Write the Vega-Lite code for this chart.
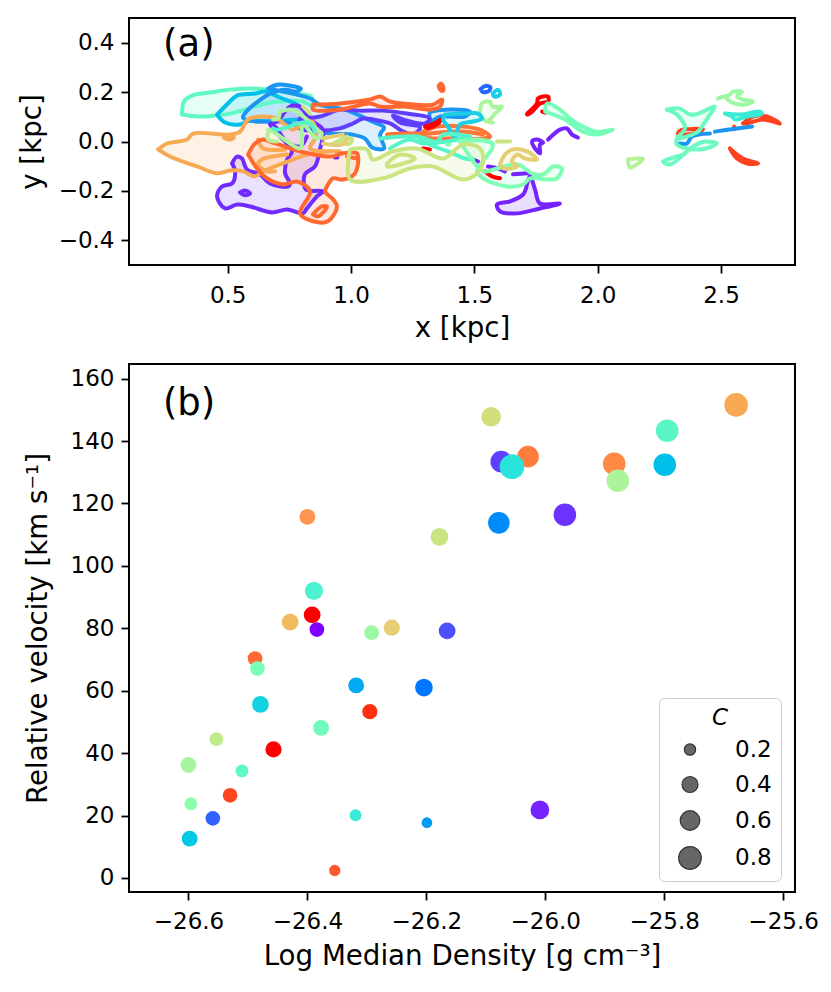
{
  "$schema": "https://vega.github.io/schema/vega-lite/v6.json",
  "padding": {"left": 17, "top": 17, "right": 5, "bottom": 5},
  "background": "white",
  "bounds": "flush",
  "spacing": 99,
  "config": {
    "font": "DejaVu Sans",
    "view": {"stroke": "black", "strokeWidth": 2},
    "axis": {
      "grid": false, "domain": false, "tickColor": "black", "tickSize": 8, "tickWidth": 1.8,
      "labelColor": "black", "labelFontSize": 23, "titleFontSize": 27.7, "titleFontWeight": "normal", "titleColor": "black", "labelPadding": 7, "titlePadding": 7
    }
  },
  "datasets": {
    "contours": [
      {"c":1,"t":0.44,"x":0.315,"y":0.109},{"c":1,"t":0.44,"x":0.323,"y":0.162},{"c":1,"t":0.44,"x":0.355,"y":0.186},{"c":1,"t":0.44,"x":0.428,"y":0.198},{"c":1,"t":0.44,"x":0.51,"y":0.21},{"c":1,"t":0.44,"x":0.619,"y":0.214},{"c":1,"t":0.44,"x":0.692,"y":0.206},{"c":1,"t":0.44,"x":0.765,"y":0.194},{"c":1,"t":0.44,"x":0.838,"y":0.182},{"c":1,"t":0.44,"x":0.846,"y":0.141},{"c":1,"t":0.44,"x":0.805,"y":0.162},{"c":1,"t":0.44,"x":0.712,"y":0.162},{"c":1,"t":0.44,"x":0.639,"y":0.15},{"c":1,"t":0.44,"x":0.57,"y":0.129},{"c":1,"t":0.44,"x":0.51,"y":0.113},{"c":1,"t":0.44,"x":0.449,"y":0.105},{"c":1,"t":0.44,"x":0.376,"y":0.101},{"c":1,"t":0.44,"x":0.315,"y":0.109},
      {"c":2,"t":0.27,"x":0.457,"y":0.109},{"c":2,"t":0.27,"x":0.501,"y":0.154},{"c":2,"t":0.27,"x":0.538,"y":0.186},{"c":2,"t":0.27,"x":0.611,"y":0.194},{"c":2,"t":0.27,"x":0.651,"y":0.202},{"c":2,"t":0.27,"x":0.712,"y":0.178},{"c":2,"t":0.27,"x":0.793,"y":0.141},{"c":2,"t":0.27,"x":0.842,"y":0.081},{"c":2,"t":0.27,"x":0.793,"y":0.089},{"c":2,"t":0.27,"x":0.672,"y":0.081},{"c":2,"t":0.27,"x":0.591,"y":0.085},{"c":2,"t":0.27,"x":0.55,"y":0.069},{"c":2,"t":0.27,"x":0.489,"y":0.077},{"c":2,"t":0.27,"x":0.457,"y":0.109},
      {"c":3,"t":0.2,"x":0.664,"y":0.214},{"c":3,"t":0.2,"x":0.7,"y":0.23},{"c":3,"t":0.2,"x":0.753,"y":0.226},{"c":3,"t":0.2,"x":0.797,"y":0.214},{"c":3,"t":0.2,"x":0.777,"y":0.202},{"c":3,"t":0.2,"x":0.733,"y":0.21},{"c":3,"t":0.2,"x":0.672,"y":0.194},{"c":3,"t":0.2,"x":0.623,"y":0.162},{"c":3,"t":0.2,"x":0.583,"y":0.129},{"c":3,"t":0.2,"x":0.562,"y":0.097},{"c":3,"t":0.2,"x":0.611,"y":0.081},{"c":3,"t":0.2,"x":0.712,"y":0.081},{"c":3,"t":0.2,"x":0.793,"y":0.061},{"c":3,"t":0.2,"x":0.842,"y":0.048},{"c":3,"t":0.2,"x":0.915,"y":0.032},{"c":3,"t":0.2,"x":1.004,"y":0.028},{"c":3,"t":0.2,"x":1.057,"y":0.012},{"c":3,"t":0.2,"x":1.085,"y":-0.024},{"c":3,"t":0.2,"x":1.134,"y":-0.028},{"c":3,"t":0.2,"x":1.118,"y":0.028},{"c":3,"t":0.2,"x":1.134,"y":0.057},{"c":3,"t":0.2,"x":1.085,"y":0.081},{"c":3,"t":0.2,"x":1.036,"y":0.105},{"c":3,"t":0.2,"x":0.975,"y":0.129},{"c":3,"t":0.2,"x":0.874,"y":0.149},{"c":3,"t":0.2,"x":0.834,"y":0.174},{"c":3,"t":0.2,"x":0.664,"y":0.214},
      {"c":4,"t":0.2,"x":1.32,"y":0.121},{"c":4,"t":0.2,"x":1.381,"y":0.129},{"c":4,"t":0.2,"x":1.482,"y":0.121},{"c":4,"t":0.2,"x":1.462,"y":0.101},{"c":4,"t":0.2,"x":1.361,"y":0.101},{"c":4,"t":0.2,"x":1.32,"y":0.081},{"c":4,"t":0.2,"x":1.32,"y":0.121},
      {"c":5,"t":0.06,"x":0.793,"y":0.093},{"c":5,"t":0.06,"x":0.874,"y":0.101},{"c":5,"t":0.06,"x":0.955,"y":0.129},{"c":5,"t":0.06,"x":1.036,"y":0.125},{"c":5,"t":0.06,"x":1.13,"y":0.125},{"c":5,"t":0.06,"x":1.227,"y":0.113},{"c":5,"t":0.06,"x":1.32,"y":0.093},{"c":5,"t":0.06,"x":1.3,"y":0.073},{"c":5,"t":0.06,"x":1.211,"y":0.089},{"c":5,"t":0.06,"x":1.17,"y":0.105},{"c":5,"t":0.06,"x":1.199,"y":0.077},{"c":5,"t":0.06,"x":1.28,"y":0.057},{"c":5,"t":0.06,"x":1.251,"y":0.028},{"c":5,"t":0.06,"x":1.211,"y":0.04},{"c":5,"t":0.06,"x":1.158,"y":0.073},{"c":5,"t":0.06,"x":1.089,"y":0.089},{"c":5,"t":0.06,"x":1.049,"y":0.093},{"c":5,"t":0.06,"x":1.008,"y":0.073},{"c":5,"t":0.06,"x":0.955,"y":0.053},{"c":5,"t":0.06,"x":0.866,"y":0.044},{"c":5,"t":0.06,"x":0.793,"y":0.053},{"c":5,"t":0.06,"x":0.793,"y":0.093},
      {"c":6,"t":0.03,"x":0.518,"y":-0.089},{"c":6,"t":0.03,"x":0.538,"y":-0.061},{"c":6,"t":0.03,"x":0.558,"y":-0.069},{"c":6,"t":0.03,"x":0.578,"y":-0.113},{"c":6,"t":0.03,"x":0.631,"y":-0.133},{"c":6,"t":0.03,"x":0.672,"y":-0.17},{"c":6,"t":0.03,"x":0.745,"y":-0.182},{"c":6,"t":0.03,"x":0.753,"y":-0.17},{"c":6,"t":0.03,"x":0.733,"y":-0.129},{"c":6,"t":0.03,"x":0.741,"y":-0.073},{"c":6,"t":0.03,"x":0.761,"y":-0.04},{"c":6,"t":0.03,"x":0.733,"y":0},{"c":6,"t":0.03,"x":0.692,"y":0.061},{"c":6,"t":0.03,"x":0.672,"y":0.069},{"c":6,"t":0.03,"x":0.7,"y":0.081},{"c":6,"t":0.03,"x":0.753,"y":0.141},{"c":6,"t":0.03,"x":0.793,"y":0.141},{"c":6,"t":0.03,"x":0.834,"y":0.089},{"c":6,"t":0.03,"x":0.886,"y":0.048},{"c":6,"t":0.03,"x":0.874,"y":-0.032},{"c":6,"t":0.03,"x":0.854,"y":-0.101},{"c":6,"t":0.03,"x":0.813,"y":-0.133},{"c":6,"t":0.03,"x":0.817,"y":-0.194},{"c":6,"t":0.03,"x":0.886,"y":-0.202},{"c":6,"t":0.03,"x":0.862,"y":-0.222},{"c":6,"t":0.03,"x":0.821,"y":-0.271},{"c":6,"t":0.03,"x":0.805,"y":-0.291},{"c":6,"t":0.03,"x":0.741,"y":-0.275},{"c":6,"t":0.03,"x":0.68,"y":-0.287},{"c":6,"t":0.03,"x":0.591,"y":-0.263},{"c":6,"t":0.03,"x":0.538,"y":-0.255},{"c":6,"t":0.03,"x":0.489,"y":-0.271},{"c":6,"t":0.03,"x":0.457,"y":-0.222},{"c":6,"t":0.03,"x":0.477,"y":-0.182},{"c":6,"t":0.03,"x":0.518,"y":-0.17},{"c":6,"t":0.03,"x":0.53,"y":-0.121},{"c":6,"t":0.03,"x":0.518,"y":-0.089},
      {"c":7,"t":0.03,"x":0.55,"y":-0.206},{"c":7,"t":0.03,"x":0.57,"y":-0.198},{"c":7,"t":0.03,"x":0.591,"y":-0.21},{"c":7,"t":0.03,"x":0.57,"y":-0.218},{"c":7,"t":0.03,"x":0.55,"y":-0.206},
      {"c":8,"t":0.03,"x":0.672,"y":0.069},{"c":8,"t":0.03,"x":0.725,"y":0.008},{"c":8,"t":0.03,"x":0.793,"y":-0.02},{"c":8,"t":0.03,"x":0.821,"y":0.02},
      {"c":9,"t":0.03,"x":0.935,"y":-0.065},{"c":9,"t":0.03,"x":0.945,"y":-0.065},
      {"c":10,"t":0.02,"x":1.714,"y":-0.17},{"c":10,"t":0.02,"x":1.698,"y":-0.214},{"c":10,"t":0.02,"x":1.645,"y":-0.242},{"c":10,"t":0.02,"x":1.592,"y":-0.255},{"c":10,"t":0.02,"x":1.604,"y":-0.283},{"c":10,"t":0.02,"x":1.673,"y":-0.291},{"c":10,"t":0.02,"x":1.766,"y":-0.271},{"c":10,"t":0.02,"x":1.847,"y":-0.251},{"c":10,"t":0.02,"x":1.766,"y":-0.251},{"c":10,"t":0.02,"x":1.746,"y":-0.194},{"c":10,"t":0.02,"x":1.726,"y":-0.141},{"c":10,"t":0.02,"x":1.714,"y":-0.17},
      {"c":11,"t":0.02,"x":1.495,"y":-0.073},{"c":11,"t":0.02,"x":1.515,"y":-0.081},
      {"c":12,"t":0.02,"x":1.555,"y":-0.101},{"c":12,"t":0.02,"x":1.596,"y":-0.109},{"c":12,"t":0.02,"x":1.624,"y":-0.121},
      {"c":13,"t":0.02,"x":1.657,"y":-0.133},{"c":13,"t":0.02,"x":1.718,"y":-0.129},
      {"c":14,"t":0.02,"x":1.799,"y":0.008},{"c":14,"t":0.02,"x":1.847,"y":0.048},{"c":14,"t":0.02,"x":1.875,"y":0.053},{"c":14,"t":0.02,"x":1.896,"y":0.028},{"c":14,"t":0.02,"x":1.92,"y":0.016},
      {"c":15,"t":0.02,"x":1.746,"y":-0.028},{"c":15,"t":0.02,"x":1.734,"y":0},{"c":15,"t":0.02,"x":1.754,"y":0.008},{"c":15,"t":0.02,"x":1.779,"y":-0.004},{"c":15,"t":0.02,"x":1.766,"y":-0.012},{"c":15,"t":0.02,"x":1.766,"y":-0.048},{"c":15,"t":0.02,"x":1.746,"y":-0.028},
      {"c":16,"t":0.77,"x":0.218,"y":-0.032},{"c":16,"t":0.77,"x":0.254,"y":-0.008},{"c":16,"t":0.77,"x":0.335,"y":0.008},{"c":16,"t":0.77,"x":0.36,"y":0.032},{"c":16,"t":0.77,"x":0.51,"y":0.028},{"c":16,"t":0.77,"x":0.55,"y":0.04},{"c":16,"t":0.77,"x":0.583,"y":0.089},{"c":16,"t":0.77,"x":0.643,"y":0.101},{"c":16,"t":0.77,"x":0.7,"y":0.093},{"c":16,"t":0.77,"x":0.765,"y":0.048},{"c":16,"t":0.77,"x":0.805,"y":0.073},{"c":16,"t":0.77,"x":0.842,"y":0.081},{"c":16,"t":0.77,"x":0.858,"y":0.02},{"c":16,"t":0.77,"x":0.834,"y":-0.028},{"c":16,"t":0.77,"x":0.955,"y":-0.04},{"c":16,"t":0.77,"x":0.915,"y":-0.04},{"c":16,"t":0.77,"x":0.822,"y":-0.053},{"c":16,"t":0.77,"x":0.765,"y":-0.073},{"c":16,"t":0.77,"x":0.712,"y":-0.093},{"c":16,"t":0.77,"x":0.643,"y":-0.121},{"c":16,"t":0.77,"x":0.611,"y":-0.141},{"c":16,"t":0.77,"x":0.562,"y":-0.121},{"c":16,"t":0.77,"x":0.51,"y":-0.117},{"c":16,"t":0.77,"x":0.457,"y":-0.129},{"c":16,"t":0.77,"x":0.376,"y":-0.101},{"c":16,"t":0.77,"x":0.266,"y":-0.061},{"c":16,"t":0.77,"x":0.218,"y":-0.032},
      {"c":17,"t":0.77,"x":0.485,"y":0.016},{"c":17,"t":0.77,"x":0.51,"y":0.024},{"c":17,"t":0.77,"x":0.525,"y":0.016},{"c":17,"t":0.77,"x":0.505,"y":0.008},{"c":17,"t":0.77,"x":0.485,"y":0.016},
      {"c":18,"t":0.77,"x":0.623,"y":0.008},{"c":18,"t":0.77,"x":0.643,"y":-0.028},{"c":18,"t":0.77,"x":0.733,"y":-0.032},
      {"c":19,"t":0.77,"x":0.741,"y":-0.053},{"c":19,"t":0.77,"x":0.639,"y":-0.073},{"c":19,"t":0.77,"x":0.623,"y":-0.093},{"c":19,"t":0.77,"x":0.659,"y":-0.121},{"c":19,"t":0.77,"x":0.692,"y":-0.121},
      {"c":20,"t":0.87,"x":0.583,"y":-0.053},{"c":20,"t":0.87,"x":0.611,"y":-0.008},{"c":20,"t":0.87,"x":0.643,"y":0.008},{"c":20,"t":0.87,"x":0.672,"y":0},{"c":20,"t":0.87,"x":0.793,"y":-0.04},{"c":20,"t":0.87,"x":0.915,"y":-0.061},{"c":20,"t":0.87,"x":0.967,"y":-0.048},{"c":20,"t":0.87,"x":1.024,"y":-0.048},{"c":20,"t":0.87,"x":1.016,"y":-0.129},{"c":20,"t":0.87,"x":0.967,"y":-0.154},{"c":20,"t":0.87,"x":0.927,"y":-0.149},{"c":20,"t":0.87,"x":0.907,"y":-0.174},{"c":20,"t":0.87,"x":0.895,"y":-0.202},{"c":20,"t":0.87,"x":0.927,"y":-0.234},{"c":20,"t":0.87,"x":0.943,"y":-0.263},{"c":20,"t":0.87,"x":0.907,"y":-0.323},{"c":20,"t":0.87,"x":0.846,"y":-0.323},{"c":20,"t":0.87,"x":0.793,"y":-0.291},{"c":20,"t":0.87,"x":0.834,"y":-0.202},{"c":20,"t":0.87,"x":0.781,"y":-0.162},{"c":20,"t":0.87,"x":0.725,"y":-0.174},{"c":20,"t":0.87,"x":0.659,"y":-0.149},{"c":20,"t":0.87,"x":0.619,"y":-0.109},{"c":20,"t":0.87,"x":0.583,"y":-0.053},
      {"c":21,"t":0.87,"x":0.846,"y":-0.295},{"c":21,"t":0.87,"x":0.882,"y":-0.263},{"c":21,"t":0.87,"x":0.903,"y":-0.263},{"c":21,"t":0.87,"x":0.866,"y":-0.303},{"c":21,"t":0.87,"x":0.846,"y":-0.295},
      {"c":22,"t":0.87,"x":0.984,"y":-0.061},{"c":22,"t":0.87,"x":1.024,"y":-0.069},
      {"c":23,"t":0.87,"x":0.846,"y":0.149},{"c":23,"t":0.87,"x":0.955,"y":0.154},{"c":23,"t":0.87,"x":1.077,"y":0.17},{"c":23,"t":0.87,"x":1.118,"y":0.182},{"c":23,"t":0.87,"x":1.158,"y":0.162},{"c":23,"t":0.87,"x":1.268,"y":0.149},{"c":23,"t":0.87,"x":1.332,"y":0.149},{"c":23,"t":0.87,"x":1.369,"y":0.17},{"c":23,"t":0.87,"x":1.361,"y":0.141},{"c":23,"t":0.87,"x":1.32,"y":0.129},{"c":23,"t":0.87,"x":1.227,"y":0.141},{"c":23,"t":0.87,"x":1.118,"y":0.141},{"c":23,"t":0.87,"x":1.077,"y":0.154},{"c":23,"t":0.87,"x":0.955,"y":0.129},{"c":23,"t":0.87,"x":0.846,"y":0.129},{"c":23,"t":0.87,"x":0.846,"y":0.149},
      {"c":24,"t":0.87,"x":1.355,"y":0.225},{"c":24,"t":0.87,"x":1.365,"y":0.235},{"c":24,"t":0.87,"x":1.375,"y":0.215},{"c":24,"t":0.87,"x":1.372,"y":0.205},{"c":24,"t":0.87,"x":1.36,"y":0.212},{"c":24,"t":0.87,"x":1.355,"y":0.225},
      {"c":25,"t":0.85,"x":1.292,"y":0.04},{"c":25,"t":0.85,"x":1.349,"y":0.061},{"c":25,"t":0.85,"x":1.454,"y":0.061},{"c":25,"t":0.85,"x":1.523,"y":0.048},{"c":25,"t":0.85,"x":1.564,"y":0.02},{"c":25,"t":0.85,"x":1.535,"y":0.012},{"c":25,"t":0.85,"x":1.401,"y":0.012},{"c":25,"t":0.85,"x":1.292,"y":0.02},{"c":25,"t":0.85,"x":1.292,"y":0.04},
      {"c":26,"t":0.85,"x":1.28,"y":0.028},{"c":26,"t":0.85,"x":1.442,"y":0.04},{"c":26,"t":0.85,"x":1.535,"y":0.028},
      {"c":27,"t":0.85,"x":1.146,"y":0.028},{"c":27,"t":0.85,"x":1.211,"y":0.032},{"c":27,"t":0.85,"x":1.28,"y":0.032},
      {"c":28,"t":1,"x":1.3,"y":0.06},{"c":28,"t":1,"x":1.34,"y":0.075},{"c":28,"t":1,"x":1.365,"y":0.09},{"c":28,"t":1,"x":1.35,"y":0.07},{"c":28,"t":1,"x":1.31,"y":0.055},{"c":28,"t":1,"x":1.3,"y":0.06},
      {"c":29,"t":1,"x":1.292,"y":-0.028},{"c":29,"t":1,"x":1.32,"y":-0.032},
      {"c":30,"t":1,"x":1.543,"y":-0.121},{"c":30,"t":1,"x":1.571,"y":-0.141},{"c":30,"t":1,"x":1.604,"y":-0.149},
      {"c":31,"t":1,"x":1.714,"y":0.113},{"c":31,"t":1,"x":1.754,"y":0.154},{"c":31,"t":1,"x":1.758,"y":0.174},{"c":31,"t":1,"x":1.799,"y":0.182},{"c":31,"t":1,"x":1.799,"y":0.162},{"c":31,"t":1,"x":1.766,"y":0.154},{"c":31,"t":1,"x":1.734,"y":0.121},{"c":31,"t":1,"x":1.714,"y":0.109},{"c":31,"t":1,"x":1.714,"y":0.113},
      {"c":32,"t":1,"x":1.775,"y":0.121},{"c":32,"t":1,"x":1.787,"y":0.117},
      {"c":33,"t":0.93,"x":2.325,"y":0.032},{"c":33,"t":0.93,"x":2.335,"y":0.045},{"c":33,"t":0.93,"x":2.37,"y":0.05},{"c":33,"t":0.93,"x":2.427,"y":0.05},{"c":33,"t":0.93,"x":2.4,"y":0.036},{"c":33,"t":0.93,"x":2.34,"y":0.028},{"c":33,"t":0.93,"x":2.325,"y":0.032},
      {"c":34,"t":0.93,"x":2.589,"y":0.073},{"c":34,"t":0.93,"x":2.63,"y":0.101},{"c":34,"t":0.93,"x":2.686,"y":0.101},{"c":34,"t":0.93,"x":2.739,"y":0.073},{"c":34,"t":0.93,"x":2.67,"y":0.089},{"c":34,"t":0.93,"x":2.605,"y":0.073},{"c":34,"t":0.93,"x":2.589,"y":0.073},
      {"c":35,"t":0.93,"x":2.536,"y":-0.028},{"c":35,"t":0.93,"x":2.565,"y":-0.069},{"c":35,"t":0.93,"x":2.605,"y":-0.089},{"c":35,"t":0.93,"x":2.65,"y":-0.089},{"c":35,"t":0.93,"x":2.589,"y":-0.069},{"c":35,"t":0.93,"x":2.536,"y":-0.028},
      {"c":36,"t":0.93,"x":2.553,"y":0.061},{"c":36,"t":0.93,"x":2.553,"y":0.05},
      {"c":37,"t":0.2,"x":2.475,"y":0.04},{"c":37,"t":0.2,"x":2.565,"y":0.053},{"c":37,"t":0.2,"x":2.626,"y":0.061},
      {"c":38,"t":0.2,"x":2.333,"y":-0.008},{"c":38,"t":0.2,"x":2.362,"y":-0.008},{"c":38,"t":0.2,"x":2.382,"y":0.02},{"c":38,"t":0.2,"x":2.455,"y":0.032},
      {"c":39,"t":0.46,"x":2.28,"y":0.129},{"c":39,"t":0.46,"x":2.333,"y":0.133},{"c":39,"t":0.46,"x":2.374,"y":0.109},{"c":39,"t":0.46,"x":2.407,"y":0.113},{"c":39,"t":0.46,"x":2.475,"y":0.141},{"c":39,"t":0.46,"x":2.455,"y":0.109},{"c":39,"t":0.46,"x":2.423,"y":0.061},{"c":39,"t":0.46,"x":2.407,"y":0.04},{"c":39,"t":0.46,"x":2.321,"y":0.012},{"c":39,"t":0.46,"x":2.354,"y":0.053},{"c":39,"t":0.46,"x":2.321,"y":0.109},{"c":39,"t":0.46,"x":2.28,"y":0.129},
      {"c":40,"t":0.46,"x":2.321,"y":0.012},{"c":40,"t":0.46,"x":2.321,"y":-0.012},{"c":40,"t":0.46,"x":2.415,"y":-0.032},{"c":40,"t":0.46,"x":2.483,"y":-0.008},{"c":40,"t":0.46,"x":2.435,"y":0},{"c":40,"t":0.46,"x":2.386,"y":-0.02},{"c":40,"t":0.46,"x":2.354,"y":-0.048},{"c":40,"t":0.46,"x":2.293,"y":-0.093},{"c":40,"t":0.46,"x":2.265,"y":-0.081},{"c":40,"t":0.46,"x":2.293,"y":-0.069},{"c":40,"t":0.46,"x":2.346,"y":-0.053},
      {"c":41,"t":0.55,"x":2.488,"y":0.174},{"c":41,"t":0.55,"x":2.516,"y":0.182},{"c":41,"t":0.55,"x":2.536,"y":0.162},{"c":41,"t":0.55,"x":2.589,"y":0.149},{"c":41,"t":0.55,"x":2.63,"y":0.162},{"c":41,"t":0.55,"x":2.589,"y":0.17},{"c":41,"t":0.55,"x":2.565,"y":0.182},{"c":41,"t":0.55,"x":2.585,"y":0.202},{"c":41,"t":0.55,"x":2.549,"y":0.202},{"c":41,"t":0.55,"x":2.536,"y":0.19},{"c":41,"t":0.55,"x":2.516,"y":0.182},
      {"c":42,"t":0.38,"x":2.516,"y":0.113},{"c":42,"t":0.38,"x":2.577,"y":0.109},{"c":42,"t":0.38,"x":2.658,"y":0.121},{"c":42,"t":0.38,"x":2.666,"y":0.113},{"c":42,"t":0.38,"x":2.605,"y":0.101},{"c":42,"t":0.38,"x":2.557,"y":0.089},{"c":42,"t":0.38,"x":2.545,"y":0.101},{"c":42,"t":0.38,"x":2.516,"y":0.113},
      {"c":43,"t":0.6,"x":2.123,"y":-0.073},{"c":43,"t":0.6,"x":2.184,"y":-0.069},{"c":43,"t":0.6,"x":2.131,"y":-0.105},{"c":43,"t":0.6,"x":2.123,"y":-0.073},
      {"c":44,"t":0.48,"x":1.787,"y":0.121},{"c":44,"t":0.48,"x":1.795,"y":0.154},{"c":44,"t":0.48,"x":1.847,"y":0.129},{"c":44,"t":0.48,"x":1.888,"y":0.093},{"c":44,"t":0.48,"x":1.94,"y":0.061},{"c":44,"t":0.48,"x":1.997,"y":0.04},{"c":44,"t":0.48,"x":2.062,"y":0.048},{"c":44,"t":0.48,"x":1.997,"y":0.028},{"c":44,"t":0.48,"x":1.94,"y":0.04},{"c":44,"t":0.48,"x":1.867,"y":0.089},{"c":44,"t":0.48,"x":1.787,"y":0.121},
      {"c":45,"t":0.13,"x":1.525,"y":0.212},{"c":45,"t":0.13,"x":1.545,"y":0.225},{"c":45,"t":0.13,"x":1.565,"y":0.22},{"c":45,"t":0.13,"x":1.56,"y":0.205},{"c":45,"t":0.13,"x":1.535,"y":0.2},{"c":45,"t":0.13,"x":1.525,"y":0.212},
      {"c":46,"t":0.3,"x":1.575,"y":0.194},{"c":46,"t":0.3,"x":1.596,"y":0.21},{"c":46,"t":0.3,"x":1.604,"y":0.19},{"c":46,"t":0.3,"x":1.58,"y":0.182},{"c":46,"t":0.3,"x":1.575,"y":0.194},
      {"c":47,"t":0.58,"x":1.523,"y":0.109},{"c":47,"t":0.58,"x":1.531,"y":0.154},{"c":47,"t":0.58,"x":1.563,"y":0.162},{"c":47,"t":0.58,"x":1.575,"y":0.141},{"c":47,"t":0.58,"x":1.612,"y":0.141},{"c":47,"t":0.58,"x":1.584,"y":0.113},{"c":47,"t":0.58,"x":1.551,"y":0.081},{"c":47,"t":0.58,"x":1.523,"y":0.109},
      {"c":48,"t":0.58,"x":1.563,"y":0.077},{"c":48,"t":0.58,"x":1.575,"y":0.077},
      {"c":49,"t":0.3,"x":1.381,"y":0.109},{"c":49,"t":0.3,"x":1.47,"y":0.113},{"c":49,"t":0.3,"x":1.515,"y":0.113},{"c":49,"t":0.3,"x":1.531,"y":0.093},{"c":49,"t":0.3,"x":1.495,"y":0.081},{"c":49,"t":0.3,"x":1.442,"y":0.069},{"c":49,"t":0.3,"x":1.421,"y":0.02},{"c":49,"t":0.3,"x":1.393,"y":0.061},{"c":49,"t":0.3,"x":1.373,"y":0.089},{"c":49,"t":0.3,"x":1.381,"y":0.109},
      {"c":50,"t":0.42,"x":1.118,"y":0.012},{"c":50,"t":0.42,"x":1.268,"y":0.02},{"c":50,"t":0.42,"x":1.349,"y":0},{"c":50,"t":0.42,"x":1.373,"y":0.028},{"c":50,"t":0.42,"x":1.482,"y":0.02},
      {"c":51,"t":0.42,"x":1.268,"y":0.02},{"c":51,"t":0.42,"x":1.32,"y":-0.012},{"c":51,"t":0.42,"x":1.413,"y":-0.048},{"c":51,"t":0.42,"x":1.462,"y":-0.069},{"c":51,"t":0.42,"x":1.495,"y":-0.073},
      {"c":52,"t":0.42,"x":1.158,"y":-0.028},{"c":52,"t":0.42,"x":1.239,"y":0.008},{"c":52,"t":0.42,"x":1.292,"y":-0.008},{"c":52,"t":0.42,"x":1.389,"y":0},{"c":52,"t":0.42,"x":1.482,"y":0.02},
      {"c":53,"t":0.5,"x":1.442,"y":0},{"c":53,"t":0.5,"x":1.563,"y":0},{"c":53,"t":0.5,"x":1.575,"y":-0.02},{"c":53,"t":0.5,"x":1.535,"y":-0.081},{"c":53,"t":0.5,"x":1.511,"y":-0.121},{"c":53,"t":0.5,"x":1.535,"y":-0.149},{"c":53,"t":0.5,"x":1.632,"y":-0.182},{"c":53,"t":0.5,"x":1.698,"y":-0.174},{"c":53,"t":0.5,"x":1.726,"y":-0.149},{"c":53,"t":0.5,"x":1.795,"y":-0.154},{"c":53,"t":0.5,"x":1.835,"y":-0.149},{"c":53,"t":0.5,"x":1.855,"y":-0.109},{"c":53,"t":0.5,"x":1.819,"y":-0.101},{"c":53,"t":0.5,"x":1.779,"y":-0.133},{"c":53,"t":0.5,"x":1.734,"y":-0.129},{"c":53,"t":0.5,"x":1.677,"y":-0.093},{"c":53,"t":0.5,"x":1.592,"y":-0.109},{"c":53,"t":0.5,"x":1.535,"y":-0.121},{"c":53,"t":0.5,"x":1.482,"y":-0.061},{"c":53,"t":0.5,"x":1.442,"y":0},
      {"c":54,"t":0.5,"x":1.389,"y":-0.012},{"c":54,"t":0.5,"x":1.399,"y":-0.012},
      {"c":55,"t":0.5,"x":1.442,"y":0},{"c":55,"t":0.5,"x":1.515,"y":0.008},{"c":55,"t":0.5,"x":1.575,"y":-0.008},
      {"c":56,"t":0.64,"x":0.996,"y":-0.032},{"c":56,"t":0.64,"x":1.065,"y":-0.032},{"c":56,"t":0.64,"x":1.089,"y":-0.073},{"c":56,"t":0.64,"x":1.17,"y":-0.04},{"c":56,"t":0.64,"x":1.268,"y":-0.028},{"c":56,"t":0.64,"x":1.373,"y":-0.069},{"c":56,"t":0.64,"x":1.454,"y":-0.012},{"c":56,"t":0.64,"x":1.523,"y":-0.028},{"c":56,"t":0.64,"x":1.535,"y":-0.081},{"c":56,"t":0.64,"x":1.511,"y":-0.129},{"c":56,"t":0.64,"x":1.454,"y":-0.154},{"c":56,"t":0.64,"x":1.332,"y":-0.101},{"c":56,"t":0.64,"x":1.239,"y":-0.109},{"c":56,"t":0.64,"x":1.13,"y":-0.149},{"c":56,"t":0.64,"x":0.996,"y":-0.154},{"c":56,"t":0.64,"x":0.996,"y":-0.032},
      {"c":57,"t":0.64,"x":1.146,"y":-0.089},{"c":57,"t":0.64,"x":1.199,"y":-0.053},{"c":57,"t":0.64,"x":1.259,"y":-0.069},{"c":57,"t":0.64,"x":1.199,"y":-0.093},{"c":57,"t":0.64,"x":1.146,"y":-0.101},{"c":57,"t":0.64,"x":1.146,"y":-0.089},
      {"c":58,"t":0.64,"x":1.592,"y":0},{"c":58,"t":0.64,"x":1.645,"y":0},
      {"c":59,"t":0.64,"x":0.955,"y":0},{"c":59,"t":0.64,"x":1.004,"y":0.012},{"c":59,"t":0.64,"x":0.996,"y":-0.008},{"c":59,"t":0.64,"x":0.955,"y":-0.008},
      {"c":60,"t":0.64,"x":0.927,"y":-0.008},{"c":60,"t":0.64,"x":0.984,"y":0.02},
      {"c":61,"t":0.64,"x":0.805,"y":0.141},{"c":61,"t":0.64,"x":0.834,"y":0.113},
      {"c":62,"t":0.6,"x":0.664,"y":0.04},{"c":62,"t":0.6,"x":0.664,"y":0.008},{"c":62,"t":0.6,"x":0.7,"y":0},
      {"c":63,"t":0.7,"x":1.604,"y":-0.093},{"c":63,"t":0.7,"x":1.624,"y":-0.053},{"c":63,"t":0.7,"x":1.657,"y":-0.032},{"c":63,"t":0.7,"x":1.714,"y":-0.04},{"c":63,"t":0.7,"x":1.754,"y":-0.073},{"c":63,"t":0.7,"x":1.705,"y":-0.069},{"c":63,"t":0.7,"x":1.673,"y":-0.053},{"c":63,"t":0.7,"x":1.653,"y":-0.081},{"c":63,"t":0.7,"x":1.673,"y":-0.101},{"c":63,"t":0.7,"x":1.616,"y":-0.109},{"c":63,"t":0.7,"x":1.604,"y":-0.093},
      {"c":64,"t":0.7,"x":0.886,"y":0.012},{"c":64,"t":0.7,"x":0.967,"y":0.028},
      {"c":65,"t":0.7,"x":0.886,"y":-0.008},{"c":65,"t":0.7,"x":0.967,"y":-0.012},{"c":65,"t":0.7,"x":0.984,"y":0.008},
      {"c":66,"t":0.58,"x":0.712,"y":0.121},{"c":66,"t":0.58,"x":0.761,"y":0.129},{"c":66,"t":0.58,"x":0.821,"y":0.089},{"c":66,"t":0.58,"x":0.862,"y":0.048},{"c":66,"t":0.58,"x":0.882,"y":0.032},{"c":66,"t":0.58,"x":0.862,"y":0.012},{"c":66,"t":0.58,"x":0.805,"y":0.069},{"c":66,"t":0.58,"x":0.801,"y":-0.008},{"c":66,"t":0.58,"x":0.793,"y":-0.028},{"c":66,"t":0.58,"x":0.741,"y":0},{"c":66,"t":0.58,"x":0.684,"y":0.04},{"c":66,"t":0.58,"x":0.664,"y":0.048},
      {"c":67,"t":0.58,"x":0.712,"y":0.121},{"c":67,"t":0.58,"x":0.704,"y":0.093},{"c":67,"t":0.58,"x":0.684,"y":0.089},
      {"c":68,"t":0.42,"x":0.684,"y":0.053},{"c":68,"t":0.42,"x":0.7,"y":0.048},{"c":68,"t":0.42,"x":0.753,"y":0.061},{"c":68,"t":0.42,"x":0.781,"y":0.073},{"c":68,"t":0.42,"x":0.834,"y":0.073},{"c":68,"t":0.42,"x":0.854,"y":0.04}
    ],
    "clumps": [
      {"rho":-25.679,"v":151.6,"C":0.87,"t":0.77},{"rho":-26.091,"v":147.8,"C":0.6,"t":0.66},{"rho":-25.795,"v":143.3,"C":0.8,"t":0.43},{"rho":-26.029,"v":135.0,"C":0.73,"t":0.84},{"rho":-26.074,"v":133.4,"C":0.73,"t":0.06},{"rho":-25.884,"v":132.7,"C":0.8,"t":0.82},{"rho":-25.799,"v":132.4,"C":0.8,"t":0.27},{"rho":-26.056,"v":131.8,"C":0.95,"t":0.36},{"rho":-25.878,"v":127.3,"C":0.8,"t":0.58},{"rho":-25.967,"v":116.4,"C":0.8,"t":0.04},{"rho":-26.078,"v":113.8,"C":0.73,"t":0.18},
      {"rho":-26.4,"v":115.7,"C":0.39,"t":0.8},{"rho":-26.178,"v":109.3,"C":0.49,"t":0.64},{"rho":-26.389,"v":92.0,"C":0.52,"t":0.4},{"rho":-26.392,"v":84.3,"C":0.44,"t":1},{"rho":-26.429,"v":82.0,"C":0.44,"t":0.74},{"rho":-26.384,"v":79.6,"C":0.34,"t":0},{"rho":-26.292,"v":78.6,"C":0.34,"t":0.55},{"rho":-26.258,"v":80.2,"C":0.41,"t":0.7},{"rho":-26.165,"v":79.2,"C":0.44,"t":0.1},
      {"rho":-26.488,"v":70.3,"C":0.34,"t":0.87},{"rho":-26.484,"v":67.1,"C":0.34,"t":0.49},{"rho":-26.479,"v":55.6,"C":0.44,"t":0.31},{"rho":-26.318,"v":61.7,"C":0.39,"t":0.23},{"rho":-26.204,"v":61.0,"C":0.49,"t":0.15},{"rho":-26.295,"v":53.3,"C":0.36,"t":0.96},{"rho":-26.377,"v":48.1,"C":0.39,"t":0.47},{"rho":-26.553,"v":44.5,"C":0.3,"t":0.62},{"rho":-26.457,"v":41.2,"C":0.41,"t":1},{"rho":-26.6,"v":36.2,"C":0.39,"t":0.57},{"rho":-26.51,"v":34.3,"C":0.26,"t":0.44},{"rho":-26.53,"v":26.5,"C":0.34,"t":0.92},{"rho":-26.596,"v":23.8,"C":0.26,"t":0.52},{"rho":-26.559,"v":19.1,"C":0.34,"t":0.12},{"rho":-26.598,"v":12.6,"C":0.39,"t":0.29},{"rho":-26.319,"v":20.1,"C":0.22,"t":0.38},{"rho":-26.199,"v":17.7,"C":0.18,"t":0.21},{"rho":-26.354,"v":2.4,"C":0.2,"t":0.89},{"rho":-26.009,"v":21.8,"C":0.55,"t":0.02}
    ]
  },
  "vconcat": [
    {
      "width": 666,
      "height": 247,
      "layer": [
        {
          "data": {"name": "contours"},
          "transform": [{"filter": {"field": "c", "oneOf": [1,2,3,4,5,6,10,16,20,23,25,39,40,42,44,47,49,53,56,63]}}],
          "mark": {"type": "line", "order": null, "strokeWidth": 0, "fillOpacity": 0.15, "interpolate": "catmull-rom"},
          "encoding": {
            "x": {"field": "x", "type": "quantitative", "scale": {"domain": [0.1, 2.8], "nice": false, "zero": false}, "title": "x [kpc]", "axis": {"values": [0.5,1,1.5,2,2.5], "format": ".1f", "labelPadding": 11, "titlePadding": 7}},
            "y": {"field": "y", "type": "quantitative", "scale": {"domain": [-0.5, 0.5], "nice": false}, "title": "y [kpc]", "axis": {"values": [-0.4,-0.2,0,0.2,0.4], "format": ".1f", "titlePadding": 12}},
            "detail": {"field": "c"},
            "fill": {"field": "t", "type": "quantitative", "legend": null, "scale": {"domain": [0,0.1,0.2,0.3,0.4,0.5,0.6,0.7,0.8,0.9,1], "range": ["#8000ff","#4c4ffc","#1a96f2","#1acee3","#4cf2ce","#80ffb4","#b3f296","#e6ce74","#ff964f","#ff4f28","#ff0000"]}}
          }
        },
        {
          "data": {"name": "contours"},
          "mark": {"type": "line", "order": null, "strokeWidth": 4, "strokeJoin": "round", "strokeCap": "round", "interpolate": "catmull-rom"},
          "encoding": {
            "x": {"field": "x", "type": "quantitative"},
            "y": {"field": "y", "type": "quantitative"},
            "detail": {"field": "c"},
            "color": {"field": "t", "type": "quantitative", "legend": null, "scale": {"domain": [0,0.1,0.2,0.3,0.4,0.5,0.6,0.7,0.8,0.9,1], "range": ["#8000ff","#4c4ffc","#1a96f2","#1acee3","#4cf2ce","#80ffb4","#b3f296","#e6ce74","#ff964f","#ff4f28","#ff0000"]}}
          }
        },
        {
          "data": {"values": [{"x": 0.238, "y": 0.392, "label": "(a)"}]},
          "mark": {"type": "text", "align": "left", "baseline": "middle", "fontSize": 37, "color": "black"},
          "encoding": {
            "x": {"field": "x", "type": "quantitative"},
            "y": {"field": "y", "type": "quantitative"},
            "text": {"field": "label"}
          }
        }
      ]
    },
    {
      "width": 666,
      "height": 528,
      "layer": [
        {
          "data": {"name": "clumps"},
          "mark": {"type": "circle", "opacity": 1},
          "encoding": {
            "x": {"field": "rho", "type": "quantitative", "scale": {"domain": [-26.7, -25.58], "nice": false, "zero": false}, "title": "Log Median Density [g cm⁻³]", "axis": {"values": [-26.6,-26.4,-26.2,-26,-25.8,-25.6], "format": ".1f", "labelPadding": 10, "titlePadding": 9}},
            "y": {"field": "v", "type": "quantitative", "scale": {"domain": [-4.5, 164.7], "nice": false, "zero": false}, "title": "Relative velocity [km s⁻¹]", "axis": {"values": [0,20,40,60,80,100,120,140,160], "titlePadding": 18}},
            "color": {"field": "t", "type": "quantitative", "legend": null, "scale": {"domain": [0,0.1,0.2,0.3,0.4,0.5,0.6,0.7,0.8,0.9,1], "range": ["#8000ff","#4c4ffc","#1a96f2","#1acee3","#4cf2ce","#80ffb4","#b3f296","#e6ce74","#ff964f","#ff4f28","#ff0000"]}},
            "size": {
              "field": "C", "type": "quantitative", "scale": {"domain": [0, 1], "range": [0, 640]},
              "legend": {
                "title": "C", "values": [0.2,0.4,0.6,0.8], "format": ".1f",
                "orient": "none", "legendX": 530, "legendY": 680,
                "padding": 9, "fillColor": "white", "strokeColor": "#cccccc", "cornerRadius": 5,
                "titleFontStyle": "italic", "titleFontWeight": "normal", "titleFontSize": 23, "titleColor": "black", "titleAnchor": "middle", "titlePadding": 8, "labelFontSize": 23, "labelColor": "black",
                "symbolFillColor": "#666666", "symbolStrokeColor": "#333333", "symbolStrokeWidth": 1.2, "symbolOpacity": 1, "rowPadding": 11, "symbolOffset": 10, "labelOffset": 33
              }
            }
          }
        },
        {
          "data": {"values": [{"rho": -26.643, "v": 152, "label": "(b)"}]},
          "mark": {"type": "text", "align": "left", "baseline": "middle", "fontSize": 37, "color": "black"},
          "encoding": {
            "x": {"field": "rho", "type": "quantitative"},
            "y": {"field": "v", "type": "quantitative"},
            "text": {"field": "label"}
          }
        }
      ],
      "resolve": {"scale": {"color": "independent"}}
    }
  ]
}
